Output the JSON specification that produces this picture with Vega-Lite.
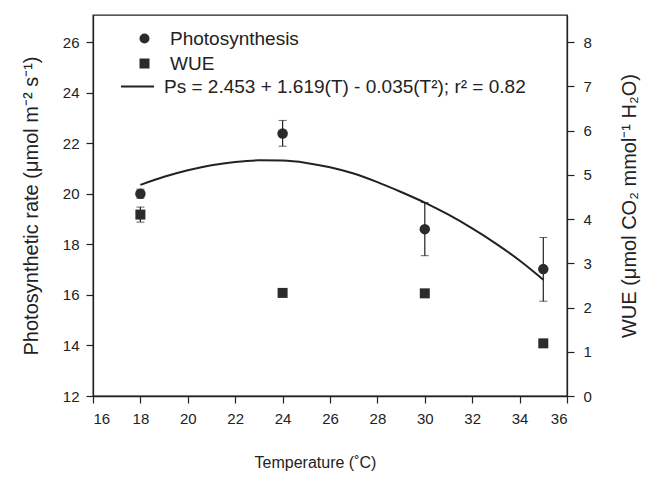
{
  "$schema": "https://vega.github.io/schema/vega-lite/v6.json",
  "width": 474,
  "height": 381,
  "autosize": "none",
  "padding": {"left": 93, "top": 15, "right": 79, "bottom": 88},
  "background": "white",
  "config": {
    "font": "Liberation Sans",
    "view": {"stroke": "#222", "strokeWidth": 1.3},
    "axis": {
      "grid": false,
      "domainColor": "#222",
      "domainWidth": 1.3,
      "tickColor": "#222",
      "tickWidth": 1.2,
      "labelColor": "#222",
      "labelFontSize": 15,
      "titleColor": "#222",
      "titleFontSize": 16,
      "titleFontWeight": "normal",
      "labelFont": "Liberation Sans",
      "titleFont": "Liberation Sans"
    }
  },
  "datasets": {
    "ps": [
      {"T": 18, "ps": 20.0, "lo": 19.82, "hi": 20.18, "series": "Photosynthesis"},
      {"T": 24, "ps": 22.38, "lo": 21.88, "hi": 22.9, "series": "Photosynthesis"},
      {"T": 30, "ps": 18.6, "lo": 17.55, "hi": 19.65, "series": "Photosynthesis"},
      {"T": 35, "ps": 17.02, "lo": 15.75, "hi": 18.27, "series": "Photosynthesis"}
    ],
    "wue": [
      {"T": 18, "w": 4.1, "lo": 3.93, "hi": 4.27, "series": "WUE"},
      {"T": 24, "w": 2.33, "lo": 2.33, "hi": 2.33, "series": "WUE"},
      {"T": 30, "w": 2.32, "lo": 2.28, "hi": 2.36, "series": "WUE"},
      {"T": 35, "w": 1.19, "lo": 1.19, "hi": 1.19, "series": "WUE"}
    ],
    "fit": [
      {"T": 18, "ps": 20.35, "series": "Ps = 2.453 + 1.619(T) - 0.035(T²); r² = 0.82"},
      {"T": 19, "ps": 20.67, "series": "Ps = 2.453 + 1.619(T) - 0.035(T²); r² = 0.82"},
      {"T": 20, "ps": 20.93, "series": "Ps = 2.453 + 1.619(T) - 0.035(T²); r² = 0.82"},
      {"T": 21, "ps": 21.13, "series": "Ps = 2.453 + 1.619(T) - 0.035(T²); r² = 0.82"},
      {"T": 22, "ps": 21.26, "series": "Ps = 2.453 + 1.619(T) - 0.035(T²); r² = 0.82"},
      {"T": 23, "ps": 21.32, "series": "Ps = 2.453 + 1.619(T) - 0.035(T²); r² = 0.82"},
      {"T": 24, "ps": 21.31, "series": "Ps = 2.453 + 1.619(T) - 0.035(T²); r² = 0.82"},
      {"T": 25, "ps": 21.22, "series": "Ps = 2.453 + 1.619(T) - 0.035(T²); r² = 0.82"},
      {"T": 26, "ps": 21.05, "series": "Ps = 2.453 + 1.619(T) - 0.035(T²); r² = 0.82"},
      {"T": 27, "ps": 20.8, "series": "Ps = 2.453 + 1.619(T) - 0.035(T²); r² = 0.82"},
      {"T": 28, "ps": 20.46, "series": "Ps = 2.453 + 1.619(T) - 0.035(T²); r² = 0.82"},
      {"T": 29, "ps": 20.07, "series": "Ps = 2.453 + 1.619(T) - 0.035(T²); r² = 0.82"},
      {"T": 30, "ps": 19.65, "series": "Ps = 2.453 + 1.619(T) - 0.035(T²); r² = 0.82"},
      {"T": 31, "ps": 19.17, "series": "Ps = 2.453 + 1.619(T) - 0.035(T²); r² = 0.82"},
      {"T": 32, "ps": 18.63, "series": "Ps = 2.453 + 1.619(T) - 0.035(T²); r² = 0.82"},
      {"T": 33, "ps": 18.03, "series": "Ps = 2.453 + 1.619(T) - 0.035(T²); r² = 0.82"},
      {"T": 34, "ps": 17.36, "series": "Ps = 2.453 + 1.619(T) - 0.035(T²); r² = 0.82"},
      {"T": 35, "ps": 16.6, "series": "Ps = 2.453 + 1.619(T) - 0.035(T²); r² = 0.82"}
    ]
  },
  "layer": [
    {
      "layer": [
        {
          "data": {"name": "fit"},
          "mark": {"type": "line", "strokeWidth": 2, "interpolate": "monotone"},
          "encoding": {
            "x": {
              "field": "T", "type": "quantitative",
              "scale": {"domain": [16, 36], "nice": false, "zero": false},
              "title": "Temperature (˚C)",
              "axis": {
                "values": [16,17,18,19,20,21,22,23,24,25,26,27,28,29,30,31,32,33,34,35,36],
                "labelExpr": "datum.value % 2 === 0 ? datum.label : ''",
                "tickSize": {"condition": {"test": "datum.value % 2 === 0", "value": 7}, "value": 4},
                "labelPadding": 8,
                "titlePadding": 28,
                "titleX": 222
              }
            },
            "y": {
              "field": "ps", "type": "quantitative",
              "scale": {"domain": [12, 27.07], "nice": false, "zero": false},
              "title": "Photosynthetic rate (μmol m⁻² s⁻¹)",
              "axis": {
                "orient": "left",
                "values": [12,13,14,15,16,17,18,19,20,21,22,23,24,25,26],
                "labelExpr": "datum.value % 2 === 0 ? datum.label : ''",
                "tickSize": {"condition": {"test": "datum.value % 2 === 0", "value": 7}, "value": 4},
                "labelPadding": 7,
                "titlePadding": 21,
                "titleFontSize": 20
              }
            },
            "color": {
              "field": "series", "type": "nominal",
              "scale": {"range": ["#222222"]},
              "legend": {
                "title": null,
                "orient": "none",
                "legendX": 27,
                "legendY": 54,
                "padding": 0,
                "symbolType": "stroke",
                "symbolSize": 1089,
                "symbolStrokeWidth": 2,
                "labelFontSize": 19,
                "labelColor": "#222",
                "labelOffset": 9,
                "labelLimit": 500
              }
            }
          }
        },
        {
          "data": {"name": "ps"},
          "mark": {"type": "errorbar", "ticks": {"size": 8, "color": "#222", "strokeWidth": 1.2}, "rule": {"color": "#222", "strokeWidth": 1.2}},
          "encoding": {
            "x": {"field": "T", "type": "quantitative"},
            "y": {"field": "lo", "type": "quantitative", "title": "Photosynthetic rate (μmol m⁻² s⁻¹)"},
            "y2": {"field": "hi"}
          }
        },
        {
          "data": {"name": "ps"},
          "mark": {"type": "point", "filled": true, "opacity": 1, "color": "#2b2b2b", "size": 110},
          "encoding": {
            "x": {"field": "T", "type": "quantitative"},
            "y": {"field": "ps", "type": "quantitative", "title": "Photosynthetic rate (μmol m⁻² s⁻¹)"},
            "shape": {
              "field": "series", "type": "nominal",
              "scale": {
                "domain": ["Photosynthesis", "WUE"],
                "range": ["circle", "square"]
              },
              "legend": {
                "title": null,
                "orient": "none",
                "legendX": 42,
                "legendY": 14,
                "padding": 0,
                "symbolSize": 100,
                "symbolFillColor": "#2b2b2b",
                "labelFontSize": 19,
                "labelColor": "#222",
                "labelOffset": 16,
                "rowPadding": 5,
                "labelLimit": 500
              }
            }
          }
        }
      ]
    },
    {
      "layer": [
        {
          "data": {"name": "wue"},
          "mark": {"type": "errorbar", "ticks": {"size": 8, "color": "#222", "strokeWidth": 1.2}, "rule": {"color": "#222", "strokeWidth": 1.2}},
          "encoding": {
            "x": {"field": "T", "type": "quantitative"},
            "y": {
              "field": "lo", "type": "quantitative",
              "scale": {"domain": [0, 8.611], "nice": false, "zero": false},
              "title": "WUE (μmol CO₂ mmol⁻¹ H₂O)",
              "axis": {
                "orient": "right",
                "values": [0,0.5,1,1.5,2,2.5,3,3.5,4,4.5,5,5.5,6,6.5,7,7.5,8],
                "labelExpr": "datum.value % 1 === 0 ? datum.label : ''",
                "tickSize": {"condition": {"test": "datum.value % 1 === 0", "value": 7}, "value": 4},
                "labelPadding": 9,
                "titlePadding": 48,
                "titleAngle": 270,
                "titleFontSize": 20
              }
            },
            "y2": {"field": "hi"}
          }
        },
        {
          "data": {"name": "wue"},
          "mark": {"type": "point", "filled": true, "opacity": 1, "color": "#2b2b2b", "size": 100},
          "encoding": {
            "x": {"field": "T", "type": "quantitative"},
            "y": {"field": "w", "type": "quantitative", "title": "WUE (μmol CO₂ mmol⁻¹ H₂O)"},
            "shape": {"field": "series", "type": "nominal"}
          }
        }
      ]
    }
  ],
  "resolve": {"scale": {"y": "independent"}}
}
